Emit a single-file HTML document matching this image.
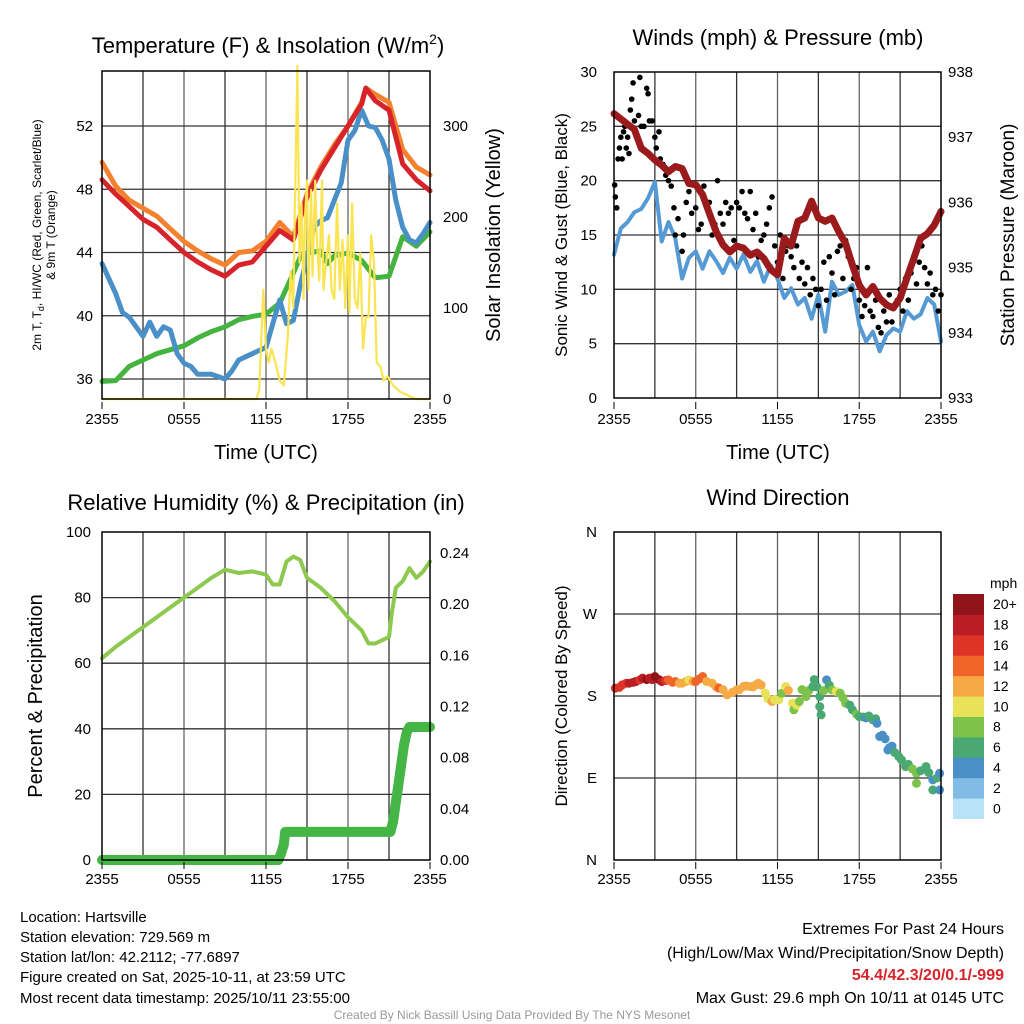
<!DOCTYPE html>
<html><head><meta charset="utf-8"><style>
html,body{margin:0;padding:0;background:#fff;}
svg{display:block;font-family:"Liberation Sans",sans-serif;}
</style></head><body>
<svg id="c" width="1024" height="1024" viewBox="0 0 1024 1024">
<text x="268" y="53" font-size="22" text-anchor="middle">Temperature (F) &amp; Insolation (W/m<tspan font-size="14" dy="-9">2</tspan><tspan dy="9">)</tspan></text>
<text x="778" y="45" font-size="22" text-anchor="middle">Winds (mph) &amp; Pressure (mb)</text>
<text x="266" y="510" font-size="22" text-anchor="middle">Relative Humidity (%) &amp; Precipitation (in)</text>
<text x="778" y="505" font-size="22" text-anchor="middle">Wind Direction</text>
<text transform="translate(41,235) rotate(-90)" font-size="12" text-anchor="middle">2m T, T<tspan font-size="9" dy="3">d</tspan><tspan dy="-3">, HI/WC (Red, Green, Scarlet/Blue)</tspan></text>
<text transform="translate(55,235) rotate(-90)" font-size="12" text-anchor="middle">&amp; 9m T (Orange)</text>
<text transform="translate(500,235) rotate(-90)" font-size="20" text-anchor="middle">Solar Insolation (Yellow)</text>
<text transform="translate(567,235) rotate(-90)" font-size="17" text-anchor="middle">Sonic Wind &amp; Gust (Blue, Black)</text>
<text transform="translate(1014,235) rotate(-90)" font-size="19" text-anchor="middle">Station Pressure (Maroon)</text>
<text transform="translate(42,696) rotate(-90)" font-size="20" text-anchor="middle">Percent &amp; Precipitation</text>
<text transform="translate(567,696) rotate(-90)" font-size="17" text-anchor="middle">Direction (Colored By Speed)</text>
<text x="266" y="459" font-size="20" text-anchor="middle">Time (UTC)</text>
<text x="778" y="459" font-size="20" text-anchor="middle">Time (UTC)</text>
<g font-size="15">
<text x="20" y="922">Location: Hartsville</text>
<text x="20" y="942">Station elevation: 729.569 m</text>
<text x="20" y="962">Station lat/lon: 42.2112; -77.6897</text>
<text x="20" y="982">Figure created on Sat, 2025-10-11, at 23:59 UTC</text>
<text x="20" y="1003">Most recent data timestamp: 2025/10/11 23:55:00</text>
</g>
<g font-size="16" text-anchor="end">
<text x="1004" y="934">Extremes For Past 24 Hours</text>
<text x="1004" y="958">(High/Low/Max Wind/Precipitation/Snow Depth)</text>
<text x="1004" y="980" fill="#d7242a" font-weight="bold">54.4/42.3/20/0.1/-999</text>
<text x="1004" y="1003">Max Gust: 29.6 mph On 10/11 at 0145 UTC</text>
</g>
<text x="512" y="1019" font-size="12" fill="#999" text-anchor="middle">Created By Nick Bassill Using Data Provided By The NYS Mesonet</text>
</svg>
<script>
// ---- Temperature panel data ----
const tHours=[0,1,2,3,4,5,6,7,8,9,10,11,12,13,14,15,16,17,18,19,19.3,20,21,22,23,24];
const tempRed=[48.6,47.7,46.9,46.1,45.6,44.8,44.0,43.4,42.9,42.5,43.2,43.4,44.4,45.4,44.8,47.5,49.2,50.6,52.0,53.4,54.4,53.6,53.0,49.6,48.6,47.9];
const tempOrange=[49.7,48.2,47.3,46.8,46.3,45.5,44.7,44.1,43.6,43.2,44.0,44.1,44.7,45.9,45.0,47.7,49.4,50.8,52.0,53.5,54.4,54.0,53.5,50.5,49.4,48.9];
const hiHours=[0,1,1.5,2,3,3.5,4,4.5,5,5.5,6,6.5,7,8,9,9.5,10,11,12,12.5,13,13.5,14,14.5,15,15.5,16,16.5,17,17.5,18,18.5,19,19.5,20,20.5,21,21.5,22,22.5,23,23.5,24];
const tempBlue=[43.3,41.4,40.2,39.9,38.7,39.6,38.7,39.3,39.1,37.6,37.0,36.8,36.3,36.3,36.0,36.5,37.2,37.6,38.0,39.5,41.0,39.5,39.7,41.9,43.7,45.6,46.0,46.2,47.3,48.4,51.1,51.7,53.0,52.0,51.9,51.1,49.9,47.3,45.6,44.8,44.6,45.2,45.9];
const dHours=[0,1,2,3,4,5,6,7,8,9,10,11,12,13,14,14.5,15,16,16.5,17,18,19,20,21,22,23,24];
const tempGreen=[35.85,35.9,36.8,37.2,37.6,37.85,38.1,38.6,39.0,39.3,39.75,39.96,40.1,40.8,42.7,43.7,43.96,44.1,43.3,43.8,43.96,43.5,42.4,42.5,45.0,44.4,45.3];
const solarHours=[0,11.3,11.5,11.8,12,12.2,12.4,12.6,13,13.3,13.6,13.8,14,14.1,14.3,14.45,14.6,14.75,14.85,15,15.1,15.3,15.4,15.6,15.7,15.9,16.1,16.2,16.4,16.6,16.8,17,17.2,17.4,17.6,17.8,18,18.1,18.3,18.5,18.7,18.9,19.1,19.3,19.5,19.7,19.9,20.1,20.4,20.6,20.9,21.3,21.8,22.5,23,24];
const solarVals=[0,0,10,120,55,40,55,45,20,15,70,140,100,200,366,150,215,110,200,240,120,230,135,240,180,130,240,120,150,180,120,110,215,120,175,100,180,95,215,110,100,160,55,90,90,180,150,40,35,20,25,15,8,3,0,0];
const tempTicks=[36,40,44,48,52];
const solarTicks=[0,100,200,300];
const timeTicks=["2355","0555","1155","1755","2355"];
// ---- Winds panel data ----
const wHours=[0,0.5,1,1.5,2,2.5,3,3.5,4,4.5,5,5.5,6,6.5,7,7.5,8,8.5,9,9.5,10,10.5,11,11.5,12,12.5,13,13.5,14,14.5,15,15.5,16,16.5,17,17.5,18,18.5,19,19.5,20,20.5,21,21.5,22,22.5,23,23.5,24];
const windSpeed=[13.2,15.6,16.2,17.1,17.4,18.4,19.9,14.4,16.2,14.7,11.0,12.9,13.5,11.9,13.5,12.6,11.5,12.9,11.9,13.2,11.6,12.6,10.7,12.2,11.0,9.2,10.1,8.6,9.2,7.3,9.5,6.1,10.7,9.5,9.8,10.4,6.7,5.2,6.1,4.3,5.8,6.4,6.1,8.0,7.3,7.7,9.2,8.6,5.2];
const pressure=[937.36,937.28,937.2,937.12,936.83,936.75,936.65,936.57,936.47,936.55,936.52,936.29,936.27,936.12,935.83,935.55,935.35,935.24,935.33,935.3,935.19,935.24,935.14,934.97,934.89,935.45,935.33,935.71,935.76,936.02,935.76,935.71,935.76,935.55,935.37,935.04,934.73,934.58,934.71,934.53,934.43,934.38,934.53,934.84,935.14,935.45,935.52,935.65,935.86];
const gustHours=[0.05,0.1,0.2,0.3,0.4,0.5,0.6,0.7,0.8,0.9,1.0,1.1,1.2,1.3,1.4,1.5,1.6,1.8,1.9,2.0,2.2,2.4,2.5,2.6,2.8,3.0,3.1,3.3,3.4,3.6,3.8,4.0,4.2,4.4,4.5,4.7,5.0,5.1,5.3,5.5,5.7,6.0,6.2,6.4,6.6,6.8,7.0,7.2,7.4,7.6,7.8,8.0,8.2,8.4,8.6,8.8,9.0,9.2,9.4,9.6,9.8,10.0,10.2,10.4,10.6,10.8,11.0,11.2,11.4,11.6,11.8,12.0,12.2,12.4,12.6,12.8,13.0,13.2,13.4,13.6,13.8,14.0,14.2,14.4,14.6,14.8,15.0,15.2,15.4,15.6,15.8,16.0,16.2,16.4,16.6,16.8,17.0,17.2,17.4,17.6,17.8,18.0,18.2,18.4,18.6,18.8,19.0,19.2,19.4,19.6,19.8,20.0,20.2,20.4,20.6,20.8,21.0,21.2,21.4,21.6,21.8,22.0,22.2,22.4,22.6,22.8,23.0,23.2,23.4,23.6,23.8,24.0];
const gustVals=[19.6,18.5,17.5,22,23,24,22,24.5,25,23,24,22.5,26.5,27.5,29,25.5,24.5,26,29.5,25,25,28.5,28,25.5,25.5,24,23,24.5,22,21.5,20.5,20,19.5,17.5,15,16.5,13.5,15,18,19,17,17.5,15.5,16,19.5,17.5,18,15,16,20,17,16,18,17,17.5,14.5,18,17.5,19,17,16.5,19,15.5,17,13,14.5,15,16,17.5,18.5,14,12.5,15,11,13.5,14,13,12,14,11,12.5,10.5,12,9.5,11,10,8.5,10,12.5,9,13,11.5,9.5,13.5,14,11,14.5,13,10,11,12,9,7.5,8.5,12,8,7.5,9,6.5,6,8,7,9.5,7,8.5,9,10,8,11,9,11.5,13,10.5,12.5,14,12,10.5,11.5,9.5,10,8,9.5];
const windTicks=[0,5,10,15,20,25,30];
const pressTicks=[933,934,935,936,937,938];
// ---- Humidity panel data ----
const rhHours=[0,1,2,3,4,5,6,7,8,9,10,11,12,12.5,13,13.5,14,14.5,15,16,17,18,19,19.5,20,20.5,21,21.2,21.5,22,22.5,23,23.5,24];
const rhVals=[61.5,65,68,71,74,77,80,83,86,88.5,87.5,88,87,84,84,91,92.5,91.5,86,83,79,74,70,66,66,67,68,75,83,85,89,86,88,91];
const pcpHours=[0,12.9,13.1,13.3,13.4,21.1,21.3,21.5,21.7,21.9,22.1,22.3,22.5,24];
const pcpVals=[0,0,0.005,0.012,0.022,0.022,0.03,0.045,0.06,0.075,0.09,0.1,0.104,0.104];
const rhTicks=[0,20,40,60,80,100];
const pcpTicks=["0.00","0.04","0.08","0.12","0.16","0.20","0.24"];
// ---- Wind direction panel data ----
const dirHours=[0.1,0.4,0.6,0.9,1.1,1.4,1.6,1.9,2.1,2.4,2.6,2.8,3.0,3.3,3.5,3.8,4.0,4.3,4.5,4.8,5.0,5.3,5.5,5.8,6.0,6.3,6.5,6.8,7.2,7.5,7.7,8.0,8.3,8.7,9.0,9.2,9.5,9.7,10.0,10.2,10.4,10.6,10.8,11.1,11.3,11.6,11.8,12.1,12.3,12.6,12.8,13.1,13.2,13.4,13.6,13.8,14.1,14.3,14.6,14.7,14.9,15.1,15.1,15.2,15.4,15.6,15.8,16.0,16.3,16.6,16.8,17.0,17.3,17.5,17.8,18.0,18.3,18.5,18.7,19.0,19.2,19.3,19.5,19.7,19.9,20.1,20.2,20.4,20.6,20.9,21.1,21.4,21.6,21.9,22.2,22.2,22.5,22.9,23.1,23.4,23.4,23.7,23.9,23.9];
const dirVals=[188.6,189.5,192.2,194,194,195,195.9,197.7,199.6,198,199.6,198,201.4,198,195.9,197,197.7,195,195.9,194,194,196,197.7,196,195.9,199,201.4,196,194,190,188.6,187,181.3,184,186.7,187,190.4,191,190.4,190,192.2,194,192,183.1,177,173.9,176,175.8,183,190.4,186,172.1,164.8,170,174,187,179.4,186,190.4,198,190,179.4,168.4,159.3,186,197.7,192,186.7,185,183.1,178,172.1,170,164.8,160,157.4,157,156,158,153.8,155,150,135.5,137,133,120.8,123,125,118,113.5,110,102.5,105,100,95.2,84.2,98,102.5,96,88,76.9,90,95.2,76.9];
const dirSpeed=[16,16,17,17,18,18,18,17,19,20,19,18,20,20,18,16,15,14,15,13,12,13,11,12,14,14,15,13,12,13,14,12,13,12,12,13,12,12,12,13,12,12,12,11,11,12,10,10,9,11,12,10,9,10,9,8,9,8,7,7,6,7,6,6,8,5,7,9,10,9,8,8,7,7,8,6,6,5,6,6,6,4,4,5,4,4,4,5,6,6,6,6,7,8,8,8,7,6,6,4,6,6,4,4];
const dirTicks=["N","E","S","W","N"];
const cbLabels=["0","2","4","6","8","10","12","14","16","18","20+"];
const cbColors=["#b8e2f8","#80bce6","#4a90c6","#4aa873","#7dc24a","#e7e257","#f6aa45","#f0642a","#dd3427","#bb1d24","#8f1419"];

const NS="http://www.w3.org/2000/svg";
const svg=document.getElementById('c');
function mk(tag,attrs,parent){const e=document.createElementNS(NS,tag);for(const k in attrs)e.setAttribute(k,attrs[k]);(parent||svg).appendChild(e);return e;}
function lin(d0,d1,r0,r1){return v=>r0+(v-d0)*(r1-r0)/(d1-d0);}
function poly(xs,ys,fx,fy,attrs,name){
  const p=mk('polyline',Object.assign({fill:'none','stroke-linejoin':'round','stroke-linecap':'round'},attrs));
  p.setAttribute('points',xs.map((x,i)=>fx(x).toFixed(1)+','+fy(ys[i]).toFixed(1)).join(' '));
  
  
  return p;
}
function frame(L,T,R,B,name){
  const g=mk('g',{});
  
  
  for(let i=1;i<8;i++){const x=L+(R-L)*i/8;mk('line',{x1:x,y1:T,x2:x,y2:B,stroke:i%2?'#333':'#666','stroke-width':1.3},g);}
  return g;
}
function hline(g,L,R,y){mk('line',{x1:L,y1:y,x2:R,y2:y,stroke:'#333','stroke-width':1.3},g);}
function border(L,T,R,B,name){
  const r=mk('rect',{x:L,y:T,width:R-L,height:B-T,fill:'none',stroke:'#000','stroke-width':1.5});
  
  
}
function xlabels(L,R,y,name){
  timeTicks.forEach((t,i)=>{
    const x=L+(R-L)*i/4;
    mk('line',{x1:x,y1:y-22,x2:x,y2:y-15,stroke:'#000','stroke-width':1});
    const e=mk('text',{x:x,y:y,'font-size':15,'text-anchor':'middle'});e.textContent=t;
    
    
  });
}
function ylab(x,y,txt,anchor,name){const e=mk('text',{x:x,y:y+5,'font-size':15,'text-anchor':anchor});e.textContent=txt;
  
  }

// ===== Panel 1: Temperature =====
{const L=102,R=430,T=71,B=399;
 const fx=lin(0,24,L,R), fy=lin(36,52,379,126), fs=lin(0,300,399,126);
 const g=frame(L,T,R,B,'temperature-grid');
 tempTicks.forEach(v=>{hline(g,L,R,fy(v));ylab(L-9,fy(v),String(v),'end','temperature-tick-label');});
 solarTicks.forEach(v=>ylab(R+13,fs(v),String(v),'start','insolation-tick-label'));
 poly(dHours,tempGreen,fx,fy,{stroke:'#45b43f','stroke-width':5},'dewpoint-line');
 poly(hiHours,tempBlue,fx,fy,{stroke:'#4a90c8','stroke-width':5},'heat-index-wind-chill-line');
 poly(tHours,tempOrange,fx,fy,{stroke:'#f4812e','stroke-width':5},'temperature-9m-line');
 poly(tHours,tempRed,fx,fy,{stroke:'#d7242a','stroke-width':5},'temperature-2m-line');
 poly(solarHours,solarVals,fx,fs,{stroke:'#fbe451','stroke-width':2.2},'solar-insolation-line');
 border(L,T,R,B,'temperature-plot-frame');
 xlabels(L,R,424,'temperature-x-tick-label');}

// ===== Panel 2: Winds =====
{const L=614,R=941,T=72,B=398;
 const fx=lin(0,24,L,R), fy=lin(0,30,B,T), fp=lin(933,938,B,T);
 const g=frame(L,T,R,B,'winds-grid');
 windTicks.forEach(v=>{if(v>0&&v<30)hline(g,L,R,fy(v));ylab(L-17,fy(v),String(v),'end','wind-tick-label');});
 pressTicks.forEach(v=>ylab(R+7,fp(v),String(v),'start','pressure-tick-label'));
 poly(wHours,windSpeed,fx,fy,{stroke:'#559ad4','stroke-width':4},'sonic-wind-line');
 gustHours.forEach((h,i)=>{const c=mk('circle',{cx:fx(h),cy:fy(gustVals[i]),r:2.8,fill:'#000'});
   
   });
 poly(wHours,pressure,fx,fp,{stroke:'#9b1b1d','stroke-width':7},'pressure-line');
 border(L,T,R,B,'winds-plot-frame');
 xlabels(L,R,424,'winds-x-tick-label');}

// ===== Panel 3: Humidity =====
{const L=102,R=430,T=532,B=860;
 const fx=lin(0,24,L,R), fy=lin(0,100,B,T), fp=lin(0,0.24,B,553);
 const g=frame(L,T,R,B,'humidity-grid');
 rhTicks.forEach(v=>{if(v>0&&v<100)hline(g,L,R,fy(v));ylab(L-11,fy(v),String(v),'end','humidity-tick-label');});
 pcpTicks.forEach(v=>ylab(R+10,fp(+v),v,'start','precip-tick-label'));
 poly(rhHours,rhVals,fx,fy,{stroke:'#8dc94f','stroke-width':4},'relative-humidity-line');
 poly(pcpHours,pcpVals,fx,fp,{stroke:'#45b545','stroke-width':10},'precipitation-line');
 border(L,T,R,B,'humidity-plot-frame');
 xlabels(L,R,884,'humidity-x-tick-label');}

// ===== Panel 4: Wind direction =====
{const L=614,R=941,T=532,B=860;
 const fx=lin(0,24,L,R), fy=lin(0,360,B,T);
 const g=frame(L,T,R,B,'direction-grid');
 dirTicks.forEach((t,i)=>{const v=i*90;if(i>0&&i<4)hline(g,L,R,fy(v));ylab(L-17,fy(v),t,'end','direction-tick-label');});
 function col(s){let k=Math.floor(s/2);if(k>10)k=10;if(k<0)k=0;return cbColors[k];}
 dirHours.forEach((h,i)=>{const c=mk('circle',{cx:fx(h),cy:fy(dirVals[i]),r:4.5,fill:col(dirSpeed[i])});
   
   });
 border(L,T,R,B,'direction-plot-frame');
 xlabels(L,R,884,'direction-x-tick-label');
 const cbT=594,cbH=224.5/11;
 const ml=mk('text',{x:990,y:588,'font-size':14});ml.textContent='mph';
 
 
 cbColors.forEach((c,i)=>{const y=cbT+(10-i)*cbH;
   const r=mk('rect',{x:953,y:y,width:31,height:cbH+0.5,fill:c});
   
   
   const t=mk('text',{x:993,y:y+cbH/2+5,'font-size':14});t.textContent=cbLabels[i];
   
   });}
</script>
</body></html>
